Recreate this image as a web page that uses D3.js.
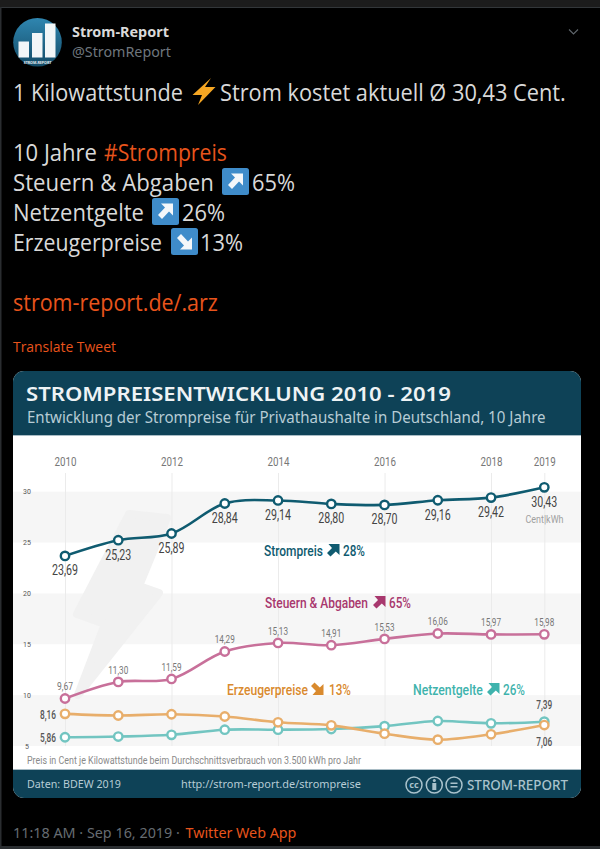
<!DOCTYPE html>
<html lang="de">
<head>
<meta charset="utf-8">
<title>Strompreisentwicklung 2010 - 2019</title>
<script src="https://cdn.jsdelivr.net/npm/d3@7"></script>
<style>
  html, body { margin: 0; padding: 0; background: #000; }
  svg { display: block; }
</style>
</head>
<body>
<svg id="page" width="600" height="849"></svg>
<script>
// Electricity price series, Cent per kWh
const years = [2010, 2011, 2012, 2013, 2014, 2015, 2016, 2017, 2018, 2019];
const strompreis = [23.69, 25.23, 25.89, 28.84, 29.14, 28.80, 28.70, 29.16, 29.42, 30.43];
const steuernAbgaben = [9.67, 11.30, 11.59, 14.29, 15.13, 14.91, 15.53, 16.06, 15.97, 15.98];
const erzeugerpreise = [8.16, 8.00, 8.12, 7.90, 7.33, 7.03, 6.21, 5.62, 6.15, 7.06];
const netzentgelte = [5.86, 5.93, 6.10, 6.60, 6.60, 6.67, 6.95, 7.46, 7.23, 7.39];
const yearTicks = [2010, 2012, 2014, 2016, 2018, 2019];
const valueTicks = [5, 10, 15, 20, 25, 30];
const bands = [[25, 30], [15, 20], [5, 10]];

const fmt = v => v.toFixed(2).replace(".", ",");
const SANS = "'Noto Sans', 'Open Sans', sans-serif";
const NARROW = "'Roboto', 'Liberation Sans', sans-serif";
const UI = "'Open Sans', 'Noto Sans', sans-serif";
const ORANGE = "#e8541c";
const LIGHT = "#d9d9d9";

const svg = d3.select("#page");
svg.append("rect").attr("width", 600).attr("height", 849).attr("fill", "#000");

// Column frame of the post
svg.append("rect").attr("width", 600).attr("height", 7).attr("fill", "#1c1c1c");
svg.append("rect").attr("y", 7).attr("width", 600).attr("height", 1).attr("fill", "#33373a");
svg.append("rect").attr("y", 7).attr("width", 1.5).attr("height", 842).attr("fill", "#2a2d30");
svg.append("rect").attr("y", 846).attr("width", 600).attr("height", 3).attr("fill", "#2a2d30");

// Squeezes or stretches a text horizontally around its anchor to a set width
function fitWidth(node, x, width) {
  const s = width / node.getComputedTextLength();
  node.setAttribute("transform", `translate(${x},0) scale(${s},1) translate(${-x},0)`);
}

function label(parent, x, y, str, o = {}) {
  const t = parent.append("text")
    .attr("x", x).attr("y", y).text(str)
    .attr("font-family", o.family || UI)
    .attr("font-size", o.size || 12)
    .attr("font-weight", o.weight || 400)
    .attr("fill", o.fill || "#000")
    .attr("text-anchor", o.anchor || "start");
  if (o.width) fitWidth(t.node(), x, o.width);
  return t;
}

// Avatar
const defs = svg.append("defs");
const avatarGrad = defs.append("linearGradient").attr("id", "avatarFill")
  .attr("x1", 0).attr("y1", 0).attr("x2", 0).attr("y2", 1);
avatarGrad.append("stop").attr("offset", "0%").attr("stop-color", "#2f86b0");
avatarGrad.append("stop").attr("offset", "100%").attr("stop-color", "#134a66");
const avatar = svg.append("g");
avatar.append("circle").attr("cx", 37.5).attr("cy", 42.3).attr("r", 24.3).attr("fill", "url(#avatarFill)");
[[18.5, 41.5], [32, 33], [45, 23.5]].forEach(([x, y]) => {
  avatar.append("rect").attr("x", x).attr("y", y).attr("width", 10.5).attr("height", 57.5 - y).attr("fill", "#f2f6f8");
});
label(avatar, 37.5, 63.5, "STROM-REPORT", { size: 3.6, weight: 700, fill: "#e8eef2", anchor: "middle", family: SANS });

label(svg, 72, 37, "Strom-Report", { size: 14, weight: 700, fill: "#d9d9d9", width: 97, family: SANS });
label(svg, 72, 57, "@StromReport", { size: 14, fill: "#6e767d", width: 99, family: SANS });
svg.append("path").attr("d", "M569 29.5l4.5 4.5 4.5-4.5").attr("fill", "none").attr("stroke", "#5f666c").attr("stroke-width", 1.1);

// Tweet copy
label(svg, 13, 101, "1 Kilowattstunde", { size: 23, fill: LIGHT, width: 170 });
svg.append("path").attr("d", "M211 78 L192.5 95 L202 95 L198 105 L215.5 87 L205 87 Z").attr("fill", "#f5a623");
label(svg, 220, 101, "Strom kostet aktuell Ø 30,43 Cent.", { size: 23, fill: LIGHT, width: 346 });
label(svg, 13, 161, "10 Jahre", { size: 23, fill: LIGHT, width: 84 });
label(svg, 104, 161, "#Strompreis", { size: 23, fill: ORANGE, width: 123 });

function arrowBox(x, y, down) {
  const g = svg.append("g").attr("transform", `translate(${x},${y})`);
  g.append("rect").attr("width", 27).attr("height", 27).attr("rx", 2.5).attr("fill", "#3f8cca");
  const p = g.append("path").attr("d", "M9 5.5 H21 V17.5 L17 13.5 L10 21 L6 17 L13 9.5 Z").attr("fill", "#f4f7fa");
  if (down) p.attr("transform", "translate(0,27) scale(1,-1)");
}
label(svg, 13, 191, "Steuern & Abgaben", { size: 23, fill: LIGHT, width: 201 });
arrowBox(222, 168, false);
label(svg, 252, 191, "65%", { size: 23, fill: LIGHT, width: 43 });
label(svg, 13, 221, "Netzentgelte", { size: 23, fill: LIGHT, width: 131 });
arrowBox(152, 198, false);
label(svg, 182, 221, "26%", { size: 23, fill: LIGHT, width: 43 });
label(svg, 13, 251, "Erzeugerpreise", { size: 23, fill: LIGHT, width: 149 });
arrowBox(171, 228, true);
label(svg, 200, 251, "13%", { size: 23, fill: LIGHT, width: 43 });
label(svg, 13, 311, "strom-report.de/.arz", { size: 23, fill: ORANGE, width: 205 });
label(svg, 13, 352, "Translate Tweet", { size: 14, fill: ORANGE, width: 103 });

// Chart card
const cardX = 13, cardY = 371, cardW = 568, cardH = 427;
defs.append("clipPath").attr("id", "cardClip").append("rect")
  .attr("x", cardX).attr("y", cardY).attr("width", cardW).attr("height", cardH).attr("rx", 11);
const card = svg.append("g").attr("clip-path", "url(#cardClip)");
card.append("rect").attr("x", cardX).attr("y", cardY).attr("width", cardW).attr("height", cardH).attr("fill", "#fff");
card.append("rect").attr("x", cardX).attr("y", cardY).attr("width", cardW).attr("height", 65).attr("fill", "#0e4257");
card.append("rect").attr("x", cardX).attr("y", 435).attr("width", cardW).attr("height", 1).attr("fill", "#a9bcc5");
card.append("rect").attr("x", cardX).attr("y", 769).attr("width", cardW).attr("height", 29).attr("fill", "#0e4257");
card.append("rect").attr("x", cardX).attr("y", 769).attr("width", cardW).attr("height", 1).attr("fill", "#a9bcc5");

label(card, 26, 401, "STROMPREISENTWICKLUNG 2010 - 2019", { size: 20.5, weight: 600, fill: "#eef3f5", width: 425, family: SANS });
label(card, 27, 423, "Entwicklung der Strompreise für Privathaushalte in Deutschland, 10 Jahre", { size: 15.5, fill: "#b7ccd5", width: 519, family: SANS });

const x = d3.scaleLinear().domain([2010, 2019]).range([65, 544.3]);
const y = d3.scaleLinear().domain([5, 30]).range([746, 491.7]);

bands.forEach(([lo, hi]) => {
  card.append("rect").attr("x", cardX).attr("width", cardW)
    .attr("y", y(hi)).attr("height", y(lo) - y(hi)).attr("fill", "#f6f6f6");
});

// Lightning bolt watermark
card.append("path")
  .attr("d", "M129 514 L167 518 L139 586 L159 593 L78 695 L105 624 L77 614 Z")
  .attr("fill", "#f1f1f1").attr("stroke", "#f1f1f1").attr("stroke-width", 8).attr("stroke-linejoin", "round");

// Year axis: its ticks run down through the plot as the vertical guides
const axisTopY = 473;
const yearAxis = card.append("g").attr("transform", `translate(0,${axisTopY})`)
  .call(d3.axisTop(x).tickValues(yearTicks).tickFormat(d3.format("d")).tickSize(-(y(5) - axisTopY)).tickPadding(7));
yearAxis.select(".domain").remove();
yearAxis.selectAll(".tick line").attr("stroke", "#ebebeb").attr("stroke-width", 1);
yearAxis.selectAll(".tick text").attr("font-family", NARROW).attr("font-size", 13).attr("fill", "#777")
  .each(function () { fitWidth(this, 0, 22); });

const valueAxis = card.append("g").attr("transform", "translate(27,0)")
  .call(d3.axisLeft(y).tickValues(valueTicks).tickFormat(d3.format("d")).tickSize(0).tickPadding(0));
valueAxis.select(".domain").remove();
valueAxis.selectAll(".tick text").attr("text-anchor", "middle").attr("font-family", NARROW).attr("font-size", 7).attr("fill", "#555");

const line = d3.line().x((d, i) => x(years[i])).y(d => y(d)).curve(d3.curveCatmullRom.alpha(0.5));

function drawSeries(values, color, width) {
  const g = card.append("g");
  g.append("path").attr("d", line(values)).attr("fill", "none")
    .attr("stroke", color).attr("stroke-width", width).attr("stroke-linecap", "round");
  g.selectAll("circle").data(values).join("circle")
    .attr("cx", (d, i) => x(years[i])).attr("cy", d => y(d)).attr("r", 4.2)
    .attr("fill", "#fff").attr("stroke", color).attr("stroke-width", 2.4);
}

drawSeries(netzentgelte, "#72c5c1", 2.6);
drawSeries(erzeugerpreise, "#e8ae6b", 2.6);
drawSeries(steuernAbgaben, "#c8709a", 2.6);
drawSeries(strompreis, "#0f5b70", 2.6);

// Value labels
strompreis.forEach((v, i) => {
  label(card, x(years[i]), y(v) + 19.3, fmt(v), { size: 14, fill: "#444", anchor: "middle", family: NARROW, width: 26 });
});
steuernAbgaben.forEach((v, i) => {
  label(card, x(years[i]), y(v) - 8, fmt(v), { size: 11.5, fill: "#777", anchor: "middle", family: NARROW, width: i === 0 ? 16 : 20 });
});
label(card, 56, 719, fmt(erzeugerpreise[0]), { size: 12.5, weight: 500, fill: "#555", anchor: "end", family: NARROW, width: 16 });
label(card, 56, 742, fmt(netzentgelte[0]), { size: 12.5, weight: 500, fill: "#555", anchor: "end", family: NARROW, width: 16 });
label(card, x(2019), y(netzentgelte[9]) - 12.7, fmt(netzentgelte[9]), { size: 12, weight: 500, fill: "#555", anchor: "middle", family: NARROW, width: 16 });
label(card, x(2019), y(erzeugerpreise[9]) + 20.7, fmt(erzeugerpreise[9]), { size: 12, weight: 500, fill: "#555", anchor: "middle", family: NARROW, width: 16 });
label(card, 544.5, 522.7, "Cent|kWh", { size: 10.5, fill: "#a0a0a0", anchor: "middle", family: NARROW, width: 38 });

// Series captions with their trend arrows
function caption(x0, base, name, nameWidth, arrowX, pct, pctX, color, down) {
  label(card, x0, base, name, { size: 15.5, weight: 500, fill: color, family: NARROW, width: nameWidth });
  card.append("path").attr("d", "M1.5 0 H12.5 V11 L8.8 7.5 L3.5 12.5 L0 9 L5 4 Z").attr("fill", color)
    .attr("transform", down
      ? `translate(${arrowX},${base}) scale(1,-1)`
      : `translate(${arrowX},${base - 12})`);
  label(card, pctX, base, pct, { size: 15.5, weight: 500, fill: color, family: NARROW, width: 22 });
}
caption(264, 556, "Strompreis", 59, 327, "28%", 343, "#0f5b70", false);
caption(265, 608, "Steuern & Abgaben", 103, 373, "65%", 389, "#a8386e", false);
caption(227, 695, "Erzeugerpreise", 81, 311, "13%", 329, "#d98a2e", true);
caption(413, 695, "Netzentgelte", 70, 487, "26%", 503, "#3fb3ad", false);

label(card, 27, 764.5, "Preis in Cent je Kilowattstunde beim Durchschnittsverbrauch von 3.500 kWh pro Jahr", { size: 11, fill: "#8a8a8a", family: NARROW, width: 334 });

// Footer
label(card, 27, 788, "Daten: BDEW 2019", { size: 10.5, fill: "#b7ccd5", family: SANS, width: 94 });
label(card, 181, 788, "http://strom-report.de/strompreise", { size: 10.5, fill: "#b7ccd5", family: SANS, width: 180 });
label(card, 467, 790, "STROM-REPORT", { size: 13.5, weight: 500, fill: "#a9c2cc", family: SANS, width: 101 });
[414, 434.3, 454].forEach(cx => {
  card.append("circle").attr("cx", cx).attr("cy", 785).attr("r", 8).attr("fill", "none").attr("stroke", "#a9c2cc").attr("stroke-width", 1.5);
});
label(card, 414, 788, "cc", { size: 9, weight: 700, fill: "#a9c2cc", anchor: "middle", family: SANS });
card.append("circle").attr("cx", 434.3).attr("cy", 780.5).attr("r", 1.5).attr("fill", "#a9c2cc");
card.append("rect").attr("x", 432.3).attr("y", 783).attr("width", 4).attr("height", 7).attr("fill", "#a9c2cc");
card.append("rect").attr("x", 450.5).attr("y", 782.5).attr("width", 7).attr("height", 1.5).attr("fill", "#a9c2cc");
card.append("rect").attr("x", 450.5).attr("y", 786).attr("width", 7).attr("height", 1.5).attr("fill", "#a9c2cc");

// Timestamp line
label(svg, 13, 838, "11:18 AM · Sep 16, 2019 ·", { size: 15, fill: "#666c72", family: SANS, width: 167 });
label(svg, 185.5, 838, "Twitter Web App", { size: 15, fill: ORANGE, family: SANS, width: 111 });
</script>
</body>
</html>
